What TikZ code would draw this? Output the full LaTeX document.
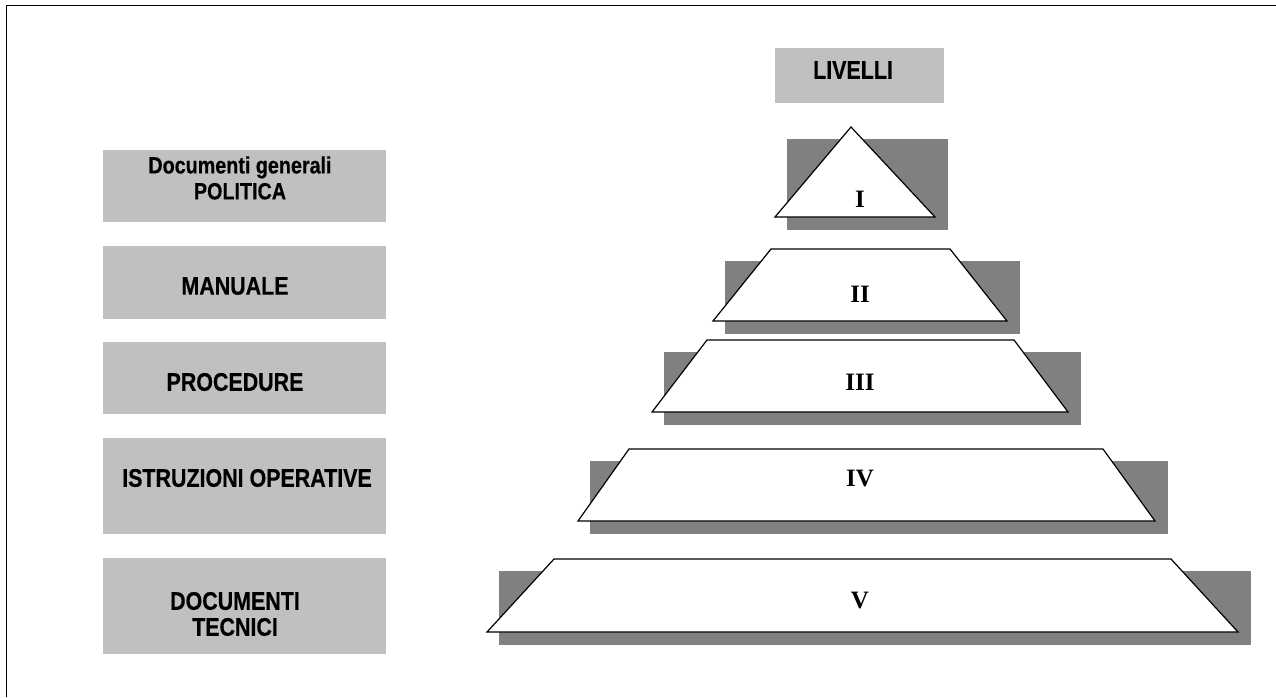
\documentclass[tikz,border=0pt]{standalone}
\usepackage{fontspec}
\newfontfamily\boxfont[FakeStretch=0.84,FakeBold=0.4]{Liberation Sans}
\newfontfamily\numfont{Liberation Serif}
\usetikzlibrary{positioning}
\definecolor{boxgray}{HTML}{C0C0C0}
\definecolor{shadowgray}{HTML}{808080}

\begin{document}
\begin{tikzpicture}[x=1pt,y=-1pt,line join=miter]
  \tikzstyle{doc box}=[fill=boxgray]
  \tikzstyle{doc text}=[font=\boxfont\bfseries\fontsize{25.5}{26}\selectfont,align=center,inner sep=0pt]
  \tikzstyle{level shape}=[fill=white,draw=black,line width=1.2pt]
  \tikzstyle{level shadow}=[fill=shadowgray]
  \tikzstyle{level num}=[font=\numfont\bfseries\fontsize{25}{27}\selectfont,inner sep=0pt]

  \useasboundingbox (0,0) rectangle (1276,697);
  \draw[line width=1.5pt] (6.5,697) -- (6.5,5.5) -- (1276,5.5);

  % header
  \fill[doc box] (775,48) rectangle (944,103);
  \node[doc text] (livelli) at (853,70) {LIVELLI};

  % left column
  \foreach \top/\bot in {150/222,246/319,342/414,438/534,558/654}
    \fill[doc box] (103,\top) rectangle (386,\bot);
  \node[doc text,font=\boxfont\bfseries\fontsize{23.5}{26}\selectfont] (politica) at (240,178) {Documenti generali\\POLITICA};
  \node[doc text] (manuale)   at (235,286) {MANUALE};
  \node[doc text] (procedure) at (235,382) {PROCEDURE};
  \node[doc text] (istruz)    at (247,478) {ISTRUZIONI OPERATIVE};
  \node[doc text] (tecnici)   at (235,614) {DOCUMENTI\\TECNICI};

  % pyramid levels: top-left/top-right/bottom-left/bottom-right/top/bottom/label y/numeral
  \foreach \tl/\tr/\bl/\br/\ty/\by/\ly/\num in {
      851/851/775/935/127/217/199/I,
      771/950/713/1007/249/321/294/II,
      707/1014/652/1068/340/412/382/III,
      629/1103/578/1155/449/521/478/IV,
      554/1171/487/1238/559/632/600/V}
  {
    \fill[level shadow] (\bl+12,\ty+12) rectangle (\br+13,\by+13);
    \draw[level shape] (\bl,\by) -- (\tl,\ty) -- (\tr,\ty) -- (\br,\by) -- cycle;
    \node[level num] (lvl-\num) at (860,\ly) {\num};
  }
\end{tikzpicture}
\end{document}
